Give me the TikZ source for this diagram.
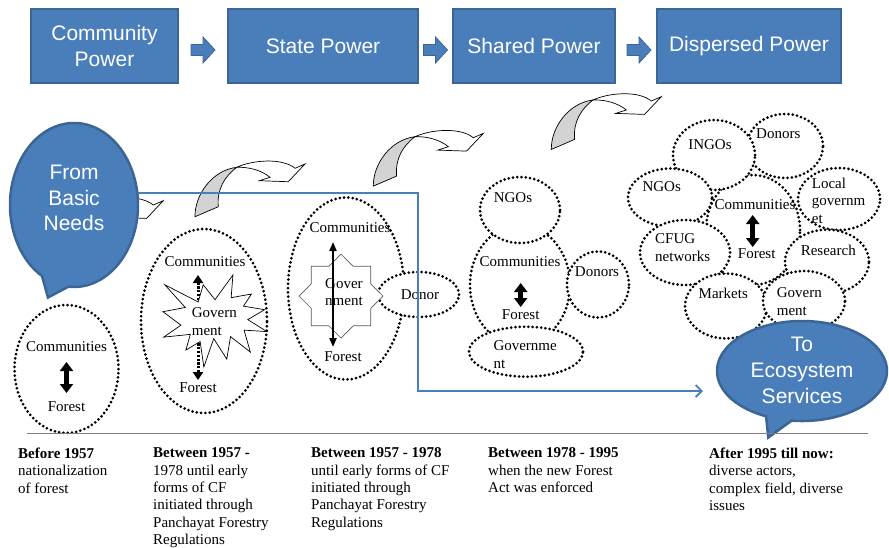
\documentclass[tikz,border=0pt]{standalone}
\usepackage{fontspec}
\setmainfont{Liberation Serif}
\newfontfamily\sansf{Liberation Sans}
\usetikzlibrary{shapes.geometric,arrows.meta,calc}
\definecolor{boxblue}{HTML}{4A7EBB}
\definecolor{boxedge}{HTML}{3A6595}
\definecolor{lineblue}{HTML}{4A7EBB}
\definecolor{arrowgray}{HTML}{D3D3D3}
\definecolor{basegray}{HTML}{7F7F7F}
\tikzset{
  powerbox/.style={draw=boxedge, line width=1.2pt, fill=boxblue, text=white,
    font=\sansf\fontsize{21}{26}\selectfont, align=center, minimum height=74pt, inner sep=0pt},
  callout/.style={fill=boxblue, draw=boxedge, line width=2.5pt},
  callouttext/.style={text=white, font=\sansf\fontsize{21}{25.8}\selectfont, align=center, inner sep=0pt},
  dotell/.style={ellipse, draw, fill=white, line width=3pt, dash pattern=on 0pt off 4.3pt,
    line cap=round, inner sep=0pt},
  lbl/.style={font=\fontsize{15}{17.4}\selectfont, inner sep=0pt, align=left},
  thickdbl/.style={line width=4.5pt, {Triangle[width=13pt,length=9pt]}-{Triangle[width=13pt,length=9pt]}},
  dotdbl/.style={line width=3pt, dash pattern=on 2.2pt off 1.6pt,
    {Triangle[width=10pt,length=8pt]}-{Triangle[width=10pt,length=8pt]}},
  thindbl/.style={line width=2pt, {Triangle[width=7pt,length=9pt]}-{Triangle[width=7pt,length=9pt]}},
  blueline/.style={draw=lineblue, line width=1.8pt, -{Straight Barb[length=6pt,width=12pt]}},
  blockarrow/.pic={
    \path[draw=boxedge, line width=0.8pt, fill=boxblue]
      (-12,-5.5) -- (0,-5.5) -- (0,-13) -- (12,0) -- (0,13) -- (0,5.5) -- (-12,5.5) -- cycle;
  },
  curvarrow/.pic={
    \path[draw=black, line width=0.7pt, fill=arrowgray]
      (-41.7,49.4) .. controls (-42,28) and (-25,3) .. (0,0)
      .. controls (-12,9) and (-20,22) .. (-18.4,39.4) -- cycle;
    \path[draw=black, line width=0.7pt, fill=white]
      (0,0) .. controls (15,-7) and (45,-10) .. (58.3,1) -- (68.3,-3.3) -- (51.6,14.4)
      -- (22.6,13.4) -- (33.3,10) .. controls (25,3) and (12,-0.5) .. (0,0) -- cycle;
  }
}
\begin{document}
\begin{tikzpicture}[x=1pt,y=-1pt]
\useasboundingbox (0,0) rectangle (889,547);

% ---------- top row of boxes
\node[powerbox, minimum width=147pt] (cp) at (104.5,46) {Community\\Power};
\node[powerbox, minimum width=190pt] (sp) at (323,46) {State Power};
\node[powerbox, minimum width=162pt] (shp) at (534,46) {Shared Power};
\node[powerbox, minimum width=184pt] (dp) at (749,46) {Dispersed Power};
\pic at ($(cp.east)!0.5!(sp.west)+(0,4)$) {blockarrow};
\pic at ($(sp.east)!0.5!(shp.west)+(0,4)$) {blockarrow};
\pic at ($(shp.east)!0.5!(dp.west)+(3,4)$) {blockarrow};

% ---------- curved arrows
\pic at (95,204) {curvarrow};
\pic at (236.7,167.3) {curvarrow};
\pic at (415,136.7) {curvarrow};
\begin{scope}[shift={(593,100)}, cm={1.1,-0.1,0,1.2,(0,0)}]
  \pic at (0,0) {curvarrow};
\end{scope}

% ---------- stage 1
\node[dotell, minimum width=104pt, minimum height=128pt] (e1) at (66.5,369) {};
\node[lbl] (c1) at (66.5,347) {Communities};
\node[lbl] (f1) at (66.5,407) {Forest};
\coordinate (a1t) at (66.5,362);
\coordinate (a1b) at (66.5,393);
\draw[thickdbl] (a1t) -- (a1b);

% ---------- stage 2
\node[dotell, minimum width=126pt, minimum height=184pt] (e2) at (204,321) {};
\coordinate (a2t) at (198,275);
\coordinate (a2b) at (198,380);
\draw[dotdbl] (a2t) -- (a2b);
\begin{scope}[shift={(163,275)}, xscale=0.48148, yscale=0.42593]
  \path[draw=black, line width=0.7pt, fill=white]
    (108,58) -- (145.22,0) -- (141.55,53.25) -- (183.80,44.57) -- (167.02,73.15)
    -- (210.97,81.37) -- (176.07,104.75) -- (216,132.90) -- (168.37,129.42)
    -- (181.45,180.95) -- (140.20,144.57) -- (132.47,197.37) -- (105.32,149.35)
    -- (84.85,216) -- (77.15,156.27) -- (47.62,176.17) -- (56.67,139.37)
    -- (1.35,145.87) -- (37.22,117.75) -- (0,86.15) -- (46.27,76.17)
    -- (3.70,22.95) -- (73.12,63.20) -- (83.52,22.95) -- cycle;
\end{scope}
\node[lbl, anchor=west] (g2) at (191.7,321.5) {Govern\\ment};
\node[lbl] (c2) at (205,262) {Communities};
\node[lbl] (f2) at (198,388) {Forest};

% ---------- stage 3
\node[dotell, minimum width=116pt, minimum height=182pt] (e3) at (346,288.5) {};
\node[dotell, minimum width=81pt, minimum height=45pt] (d3) at (418.5,294.5) {};
\node[star, star points=8, star point ratio=1.307, minimum size=84pt, inner sep=0pt,
      draw=black!65, line width=0.7pt, fill=white] (s3) at (341,296) {};
\node[lbl, anchor=west] (g3) at (325,292) {Gover\\nment};
\coordinate (a3t) at (333,242);
\coordinate (a3b) at (333,347);
\draw[thindbl] (a3t) -- (a3b);
\node[lbl] (c3) at (350,228) {Communities};
\node[lbl] (f3) at (343,357) {Forest};
\node[lbl] (dn3) at (420,295) {Donor};

% ---------- stage 4
\node[dotell, minimum width=100pt, minimum height=120pt] (e4) at (520,285) {};
\node[dotell, minimum width=80pt, minimum height=66pt] (n4) at (520,210) {};
\node[dotell, minimum width=62pt, minimum height=66pt] (d4) at (598,284.5) {};
\node[dotell, minimum width=114pt, minimum height=50pt] (g4) at (526,351.7) {};
\node[lbl] (tn4) at (513,198) {NGOs};
\node[lbl] (c4) at (520,262) {Communities};
\node[lbl] (f4) at (520.7,315) {Forest};
\node[lbl] (td4) at (597,272) {Donors};
\node[lbl, anchor=west] (tg4) at (493.3,354.7) {Governme\\nt};
\coordinate (a4t) at (520.7,283);
\coordinate (a4b) at (520.7,307);
\draw[thickdbl] (a4t) -- (a4b);

% ---------- stage 5
\node[dotell, minimum width=94pt, minimum height=110pt] (e5) at (753,230) {};
\node[dotell, minimum width=76pt, minimum height=64pt] (d5) at (785,146) {};
\node[dotell, minimum width=82pt, minimum height=70pt] (i5) at (714,155) {};
\node[dotell, minimum width=84pt, minimum height=58pt] (n5) at (670,197.5) {};
\node[dotell, minimum width=82pt, minimum height=62pt] (l5) at (839,199) {};
\node[dotell, minimum width=90pt, minimum height=65pt] (cf5) at (685,252.5) {};
\node[dotell, minimum width=84pt, minimum height=64pt] (r5) at (827,261.7) {};
\node[dotell, minimum width=82pt, minimum height=65pt] (m5) at (726,306) {};
\node[dotell, minimum width=82pt, minimum height=60pt] (g5) at (804,301) {};
\node[lbl] (ti5) at (710,145) {INGOs};
\node[lbl] (td5) at (778.3,133.3) {Donors};
\node[lbl] (tn5) at (661.7,186.7) {NGOs};
\node[lbl, anchor=west] (tl5) at (811.7,200.5) {Local\\governm\\et};
\node[lbl] (c5) at (755,205) {Communities};
\node[lbl] (f5) at (756.7,253.3) {Forest};
\node[lbl, anchor=west] (tc5) at (655,247.5) {CFUG\\networks};
\node[lbl] (tr5) at (828.3,250) {Research};
\node[lbl] (tm5) at (723.3,293.3) {Markets};
\node[lbl, anchor=west] (tg5) at (776.7,301.7) {Govern\\ment};
\coordinate (a5t) at (752.7,215);
\coordinate (a5b) at (752.7,247);
\draw[thickdbl] (a5t) -- (a5b);

% ---------- blue connector
\coordinate (fbR) at (137.5,193);
\coordinate (bend) at (418,391);
\coordinate (toL) at (703,391);
\draw[blueline] (fbR) -| (bend) -- (toL);

% ---------- callouts
\path[callout] (68.42,286.69) -- (48,297.5) -- (42,276.01)
  arc[start angle=120, end angle=455, x radius=64, y radius=82] -- cycle;
\node[callouttext] (fbn) at (74,198) {From\\Basic\\Needs};
\path[callout] (791.64,420.63) -- (768.3,437.5) -- (766.08,416.32)
  arc[start angle=115, end angle=457, x radius=85, y radius=50] -- cycle;
\node[callouttext] (tes) at (802,370.5) {To\\Ecosystem\\Services};

% ---------- time line and period texts
\coordinate (bl) at (27,433.5);
\coordinate (br) at (868,433.5);
\draw[basegray, line width=1.6pt] (bl) -- (br);
\node[lbl, anchor=north west] (t1) at (18,447.5) {\textbf{Before 1957}\\nationalization\\of forest};
\node[lbl, anchor=north west] (t2) at (153,447.5) {\textbf{Between 1957 -}\\1978 until early\\forms of CF\\initiated through\\Panchayat Forestry\\Regulations};
\node[lbl, anchor=north west] (t3) at (311,447.5) {\textbf{Between 1957 - 1978}\\until early forms of CF\\initiated through\\Panchayat Forestry\\Regulations};
\node[lbl, anchor=north west] (t4) at (488,447.5) {\textbf{Between 1978 - 1995}\\when the new Forest\\Act was enforced};
\node[lbl, anchor=north west] (t5) at (709,447.5) {\textbf{After 1995 till now:}\\diverse actors,\\complex field, diverse\\issues};
\end{tikzpicture}
\end{document}
